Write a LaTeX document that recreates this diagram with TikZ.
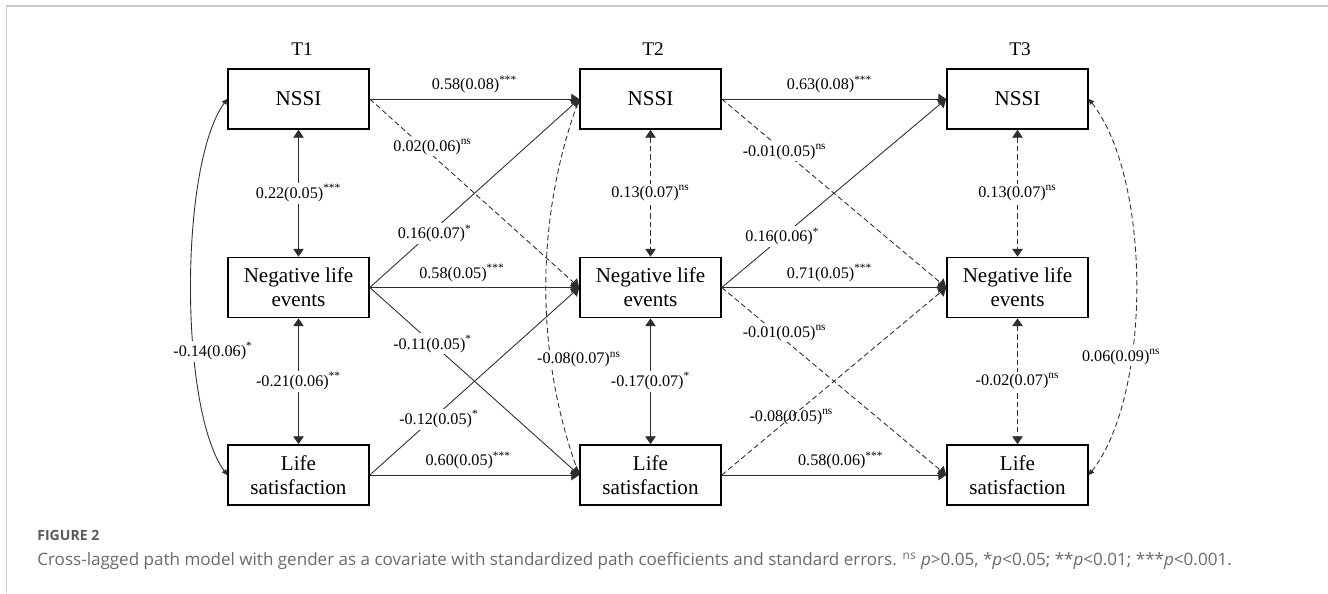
\documentclass[tikz,border=0pt]{standalone}
\usepackage{fontspec}
\setmainfont{Liberation Serif}
\newfontfamily\capfont{Open Sans}
\usetikzlibrary{arrows.meta}
\definecolor{linegray}{HTML}{2E2E2E}
\definecolor{framegray}{HTML}{C8C8C8}
\definecolor{capgray}{HTML}{6A6A6A}

\begin{document}
\begin{tikzpicture}[
    var/.style={
        draw, line width=0.9pt,
        minimum width=2.82cm, minimum height=1.2cm,
        align=center, inner sep=1pt,
        font=\fontsize{12}{13.6}\selectfont
    },
    wave/.style={font=\fontsize{11}{13}\selectfont},
    coef/.style={font=\fontsize{9.2}{10}\selectfont, inner sep=1pt},
    cut/.style={coef, fill=white},
    reg/.style={-{Triangle[length=4.5pt, width=6pt]}, line width=0.5pt, draw=linegray},
    cov/.style={{Triangle[length=4.5pt, width=6pt]}-{Triangle[length=4.5pt, width=6pt]},
        line width=0.5pt, draw=linegray},
    resid/.style={{Triangle[length=3pt, width=3pt]}-{Triangle[length=3pt, width=3pt]},
        line width=0.5pt, draw=linegray},
    nsline/.style={dash pattern=on 3pt off 1.8pt}
]
\useasboundingbox (0, 0) rectangle (26.56, -11.86);
\draw[framegray, line width=0.7pt] (0.13, -11.86) |- (26.56, -0.12);

\node[wave] (t1) at (6.04, -0.99)  {T1};
\node[wave] (t2) at (13.06, -0.99) {T2};
\node[wave] (t3) at (20.40, -0.99) {T3};

\node[var] (nssi1) at (5.97, -1.98)  {NSSI};
\node[var] (nle1)  at (5.97, -5.75)  {Negative life\\events};
\node[var] (ls1)   at (5.97, -9.50)  {Life\\satisfaction};

\node[var] (nssi2) at (13.01, -1.98) {NSSI};
\node[var] (nle2)  at (13.01, -5.75) {Negative life\\events};
\node[var] (ls2)   at (13.01, -9.50) {Life\\satisfaction};

\node[var] (nssi3) at (20.35, -1.98) {NSSI};
\node[var] (nle3)  at (20.35, -5.75) {Negative life\\events};
\node[var] (ls3)   at (20.35, -9.50) {Life\\satisfaction};

% within-wave covariances
\draw[cov] (nssi1.south) -- node[cut] (r1a) {0.22(0.05)\textsuperscript{***}} (nle1.north);
\draw[cov] (nle1.south)  -- node[cut] (r1b) {-0.21(0.06)\textsuperscript{**}} (ls1.north);
\draw[cov, nsline] (nssi2.south) -- node[cut] (r2a) {0.13(0.07)\textsuperscript{ns}} (nle2.north);
\draw[cov] (nle2.south)  -- node[cut] (r2b) {-0.17(0.07)\textsuperscript{*}} (ls2.north);
\draw[cov, nsline] (nssi3.south) -- node[cut] (r3a) {0.13(0.07)\textsuperscript{ns}} (nle3.north);
\draw[cov, nsline] (nle3.south)  -- node[cut] (r3b) {-0.02(0.07)\textsuperscript{ns}} (ls3.north);

\draw[resid] (nssi1.west) .. controls +(-0.96, -1.32) and +(-0.96, 1.32) .. (ls1.west)
    node[cut, pos=0.64, xshift=0.38cm] (r13) {-0.14(0.06)\textsuperscript{*}};
\draw[resid, nsline] (nssi2.west) .. controls +(-0.88, -2.42) and +(-0.88, 2.42) .. (ls2.west)
    node[cut, pos=0.69, xshift=0.56cm] (r23) {-0.08(0.07)\textsuperscript{ns}};
\draw[resid, nsline] (nssi3.east) .. controls +(1.26, -1.6) and +(1.26, 1.6) .. (ls3.east)
    node[cut, pos=0.66, xshift=-0.2cm] (r33) {0.06(0.09)\textsuperscript{ns}};

% autoregressive paths
\draw[reg] (nssi1.east) -- node[coef, above=2pt] (a1) {0.58(0.08)\textsuperscript{***}} (nssi2.west);
\draw[reg] (nle1.east)  -- node[coef, above=2pt, pos=0.44] (a2) {0.58(0.05)\textsuperscript{***}} (nle2.west);
\draw[reg] (ls1.east)   -- node[coef, above=2pt, pos=0.47] (a3) {0.60(0.05)\textsuperscript{***}} (ls2.west);
\draw[reg] (nssi2.east) -- node[coef, above=2pt, pos=0.48] (a4) {0.63(0.08)\textsuperscript{***}} (nssi3.west);
\draw[reg] (nle2.east)  -- node[coef, above=2pt, pos=0.48] (a5) {0.71(0.05)\textsuperscript{***}} (nle3.west);
\draw[reg] (ls2.east)   -- node[coef, above=2pt, pos=0.53] (a6) {0.58(0.06)\textsuperscript{***}} (ls3.west);

% cross-lagged paths
\draw[reg, nsline] (nssi1.east) -- node[cut, pos=0.3, yshift=5pt] (x1) {0.02(0.06)\textsuperscript{ns}} (nle2.west);
\draw[reg] (nle1.east) -- node[cut, pos=0.31, yshift=-2.5pt] (x2) {0.16(0.07)\textsuperscript{*}} (nssi2.west);
\draw[reg] (nle1.east) -- node[cut, pos=0.3] (x3) {-0.11(0.05)\textsuperscript{*}} (ls2.west);
\draw[reg] (ls1.east)  -- node[cut, pos=0.33, yshift=-3.5pt] (x4) {-0.12(0.05)\textsuperscript{*}} (nle2.west);
\draw[reg, nsline] (nssi2.east) -- node[cut, pos=0.28] (x5) {-0.01(0.05)\textsuperscript{ns}} (nle3.west);
\draw[reg] (nle2.east) -- node[cut, pos=0.27] (x6) {0.16(0.06)\textsuperscript{*}} (nssi3.west);
\draw[reg, nsline] (nle2.east) -- node[cut, pos=0.28, yshift=4pt] (x7) {-0.01(0.05)\textsuperscript{ns}} (ls3.west);
\draw[reg, nsline] (ls2.east)  -- node[coef, pos=0.31] (x8) {-0.08(0.05)\textsuperscript{ns}} (nle3.west);

\node[anchor=base west, inner sep=0pt, text=capgray!85!black, font=\capfont\fontsize{8}{9}\selectfont\bfseries]
    (fig) at (0.74, -10.81) {FIGURE 2};
\node[anchor=base west, inner sep=0pt, text=capgray, font=\capfont\fontsize{9.7}{11}\selectfont]
    (cap) at (0.74, -11.31) {Cross-lagged path model with gender as a covariate with standardized path coefficients and standard errors. \textsuperscript{ns} \textit{p}>0.05, *\textit{p}<0.05; **\textit{p}<0.01; ***\textit{p}<0.001.};

\end{tikzpicture}
\end{document}
